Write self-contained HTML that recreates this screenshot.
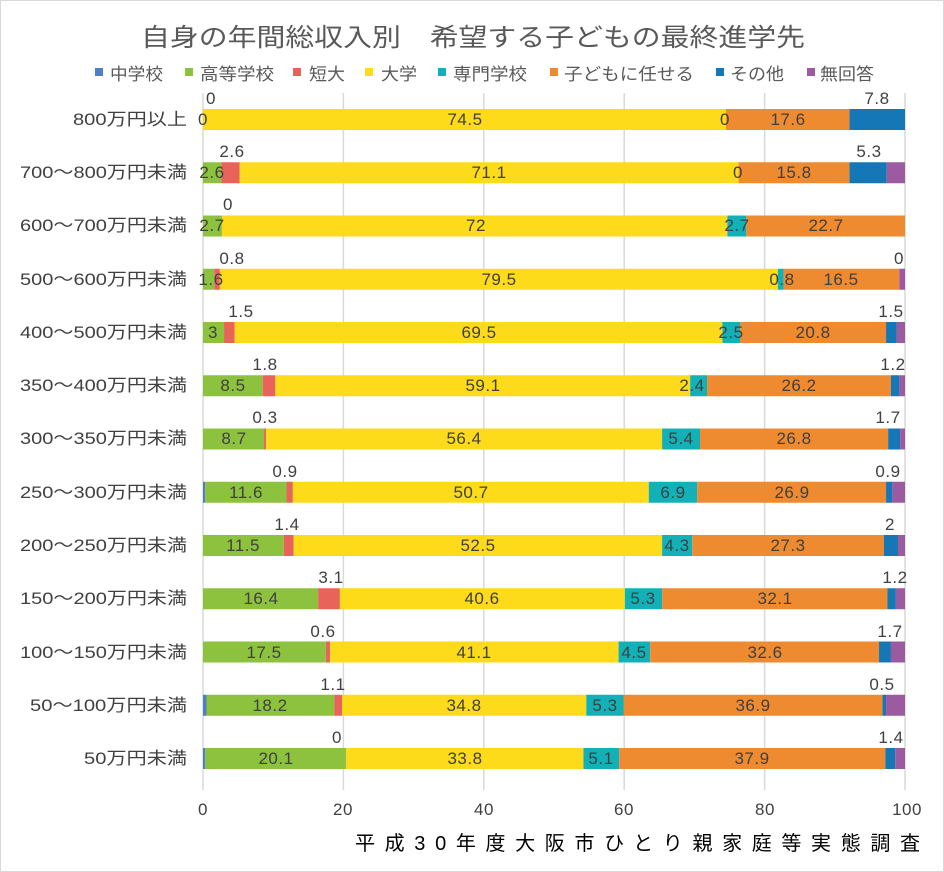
<!DOCTYPE html>
<html><head><meta charset="utf-8"><style>
body{margin:0;background:#fff}
svg{display:block;font-family:"Liberation Sans","Noto Sans CJK JP",sans-serif}
.t{font-size:17px;fill:#404040;text-anchor:middle;letter-spacing:0.5px}
.c{font-size:17px;fill:#404040;text-anchor:end}
</style></head><body>
<svg width="944" height="872" viewBox="0 0 944 872">
<rect x="0.5" y="0.5" width="943" height="871" fill="#fff" stroke="#d9d9d9"/>
<text x="141" y="46" font-size="25" fill="#595959" textLength="664" lengthAdjust="spacingAndGlyphs">自身の年間総収入別　希望する子どもの最終進学先</text>
<g font-size="17" fill="#595959">
<rect x="95" y="68" width="8" height="8" fill="#4F7EC4"/><text x="110" y="80" textLength="53" lengthAdjust="spacingAndGlyphs">中学校</text>
<rect x="185" y="68" width="8" height="8" fill="#8DC23F"/><text x="200" y="80" textLength="74" lengthAdjust="spacingAndGlyphs">高等学校</text>
<rect x="293" y="68" width="8" height="8" fill="#E8635A"/><text x="309" y="80" textLength="36" lengthAdjust="spacingAndGlyphs">短大</text>
<rect x="365" y="68" width="8" height="8" fill="#FDDA1A"/><text x="381" y="80" textLength="36" lengthAdjust="spacingAndGlyphs">大学</text>
<rect x="438" y="68" width="8" height="8" fill="#12B1B8"/><text x="453" y="80" textLength="74" lengthAdjust="spacingAndGlyphs">専門学校</text>
<rect x="550" y="68" width="8" height="8" fill="#EE8A30"/><text x="564" y="80" textLength="130" lengthAdjust="spacingAndGlyphs">子どもに任せる</text>
<rect x="716" y="68" width="8" height="8" fill="#1577B5"/><text x="730" y="80" textLength="54" lengthAdjust="spacingAndGlyphs">その他</text>
<rect x="807" y="68" width="8" height="8" fill="#9C5AA0"/><text x="820" y="80" textLength="54" lengthAdjust="spacingAndGlyphs">無回答</text>
</g>
<g stroke="#d9d9d9" stroke-width="1.5">
<line x1="203" y1="93" x2="203" y2="790"/><line x1="343.4" y1="93" x2="343.4" y2="790"/><line x1="483.8" y1="93" x2="483.8" y2="790"/><line x1="624.2" y1="93" x2="624.2" y2="790"/><line x1="764.6" y1="93" x2="764.6" y2="790"/><line x1="905" y1="93" x2="905" y2="790"/>
</g>
<g transform="translate(203,0) scale(7.02,1)">
<g transform="translate(0,109)"><rect x="0" width="74.5" height="21" fill="#FDDA1A"/><rect x="74.5" width="17.6" height="21" fill="#EE8A30"/><rect x="92.1" width="7.9" height="21" fill="#1577B5"/></g>
<g transform="translate(0,162.25)"><rect x="0" width="2.6" height="21" fill="#8DC23F"/><rect x="2.6" width="2.6" height="21" fill="#E8635A"/><rect x="5.2" width="71.1" height="21" fill="#FDDA1A"/><rect x="76.3" width="15.8" height="21" fill="#EE8A30"/><rect x="92.1" width="5.3" height="21" fill="#1577B5"/><rect x="97.4" width="2.6" height="21" fill="#9C5AA0"/></g>
<g transform="translate(0,215.5)"><rect x="0" width="2.7" height="21" fill="#8DC23F"/><rect x="2.7" width="72" height="21" fill="#FDDA1A"/><rect x="74.7" width="2.7" height="21" fill="#12B1B8"/><rect x="77.4" width="22.6" height="21" fill="#EE8A30"/></g>
<g transform="translate(0,268.75)"><rect x="0" width="1.6" height="21" fill="#8DC23F"/><rect x="1.6" width="0.8" height="21" fill="#E8635A"/><rect x="2.4" width="79.5" height="21" fill="#FDDA1A"/><rect x="81.9" width="0.8" height="21" fill="#12B1B8"/><rect x="82.7" width="16.5" height="21" fill="#EE8A30"/><rect x="99.2" width="0.8" height="21" fill="#9C5AA0"/></g>
<g transform="translate(0,322)"><rect x="0" width="3" height="21" fill="#8DC23F"/><rect x="3" width="1.5" height="21" fill="#E8635A"/><rect x="4.5" width="69.5" height="21" fill="#FDDA1A"/><rect x="74" width="2.5" height="21" fill="#12B1B8"/><rect x="76.5" width="20.8" height="21" fill="#EE8A30"/><rect x="97.3" width="1.5" height="21" fill="#1577B5"/><rect x="98.8" width="1.2" height="21" fill="#9C5AA0"/></g>
<g transform="translate(0,375.25)"><rect x="0" width="8.5" height="21" fill="#8DC23F"/><rect x="8.5" width="1.8" height="21" fill="#E8635A"/><rect x="10.3" width="59.1" height="21" fill="#FDDA1A"/><rect x="69.4" width="2.4" height="21" fill="#12B1B8"/><rect x="71.8" width="26.2" height="21" fill="#EE8A30"/><rect x="98" width="1.2" height="21" fill="#1577B5"/><rect x="99.2" width="0.8" height="21" fill="#9C5AA0"/></g>
<g transform="translate(0,428.5)"><rect x="0" width="8.7" height="21" fill="#8DC23F"/><rect x="8.7" width="0.3" height="21" fill="#E8635A"/><rect x="9" width="56.4" height="21" fill="#FDDA1A"/><rect x="65.4" width="5.4" height="21" fill="#12B1B8"/><rect x="70.8" width="26.8" height="21" fill="#EE8A30"/><rect x="97.6" width="1.7" height="21" fill="#1577B5"/><rect x="99.3" width="0.7" height="21" fill="#9C5AA0"/></g>
<g transform="translate(0,481.75)"><rect x="0" width="0.3" height="21" fill="#4F7EC4"/><rect x="0.3" width="11.6" height="21" fill="#8DC23F"/><rect x="11.9" width="0.9" height="21" fill="#E8635A"/><rect x="12.8" width="50.7" height="21" fill="#FDDA1A"/><rect x="63.5" width="6.9" height="21" fill="#12B1B8"/><rect x="70.4" width="26.9" height="21" fill="#EE8A30"/><rect x="97.3" width="0.9" height="21" fill="#1577B5"/><rect x="98.2" width="1.8" height="21" fill="#9C5AA0"/></g>
<g transform="translate(0,535)"><rect x="0" width="11.5" height="21" fill="#8DC23F"/><rect x="11.5" width="1.4" height="21" fill="#E8635A"/><rect x="12.9" width="52.5" height="21" fill="#FDDA1A"/><rect x="65.4" width="4.3" height="21" fill="#12B1B8"/><rect x="69.7" width="27.3" height="21" fill="#EE8A30"/><rect x="97" width="2" height="21" fill="#1577B5"/><rect x="99" width="1" height="21" fill="#9C5AA0"/></g>
<g transform="translate(0,588.25)"><rect x="0" width="16.4" height="21" fill="#8DC23F"/><rect x="16.4" width="3.1" height="21" fill="#E8635A"/><rect x="19.5" width="40.6" height="21" fill="#FDDA1A"/><rect x="60.1" width="5.3" height="21" fill="#12B1B8"/><rect x="65.4" width="32.1" height="21" fill="#EE8A30"/><rect x="97.5" width="1.2" height="21" fill="#1577B5"/><rect x="98.7" width="1.3" height="21" fill="#9C5AA0"/></g>
<g transform="translate(0,641.5)"><rect x="0" width="17.5" height="21" fill="#8DC23F"/><rect x="17.5" width="0.6" height="21" fill="#E8635A"/><rect x="18.1" width="41.1" height="21" fill="#FDDA1A"/><rect x="59.2" width="4.5" height="21" fill="#12B1B8"/><rect x="63.7" width="32.6" height="21" fill="#EE8A30"/><rect x="96.3" width="1.7" height="21" fill="#1577B5"/><rect x="98" width="2" height="21" fill="#9C5AA0"/></g>
<g transform="translate(0,694.75)"><rect x="0" width="0.5" height="21" fill="#4F7EC4"/><rect x="0.5" width="18.2" height="21" fill="#8DC23F"/><rect x="18.7" width="1.1" height="21" fill="#E8635A"/><rect x="19.8" width="34.8" height="21" fill="#FDDA1A"/><rect x="54.6" width="5.3" height="21" fill="#12B1B8"/><rect x="59.9" width="36.9" height="21" fill="#EE8A30"/><rect x="96.8" width="0.5" height="21" fill="#1577B5"/><rect x="97.3" width="2.7" height="21" fill="#9C5AA0"/></g>
<g transform="translate(0,748)"><rect x="0" width="0.3" height="21" fill="#4F7EC4"/><rect x="0.3" width="20.1" height="21" fill="#8DC23F"/><rect x="20.4" width="33.8" height="21" fill="#FDDA1A"/><rect x="54.2" width="5.1" height="21" fill="#12B1B8"/><rect x="59.3" width="37.9" height="21" fill="#EE8A30"/><rect x="97.2" width="1.4" height="21" fill="#1577B5"/><rect x="98.6" width="1.4" height="21" fill="#9C5AA0"/></g>
</g>
<g class="c" style="text-anchor:start">
<text x="73" y="125" textLength="114" lengthAdjust="spacingAndGlyphs">800万円以上</text>
<text x="20" y="178" textLength="167" lengthAdjust="spacingAndGlyphs">700～800万円未満</text>
<text x="20" y="231" textLength="167" lengthAdjust="spacingAndGlyphs">600～700万円未満</text>
<text x="20" y="285" textLength="167" lengthAdjust="spacingAndGlyphs">500～600万円未満</text>
<text x="20" y="338" textLength="167" lengthAdjust="spacingAndGlyphs">400～500万円未満</text>
<text x="20" y="391" textLength="167" lengthAdjust="spacingAndGlyphs">350～400万円未満</text>
<text x="20" y="444" textLength="167" lengthAdjust="spacingAndGlyphs">300～350万円未満</text>
<text x="20" y="498" textLength="167" lengthAdjust="spacingAndGlyphs">250～300万円未満</text>
<text x="20" y="551" textLength="167" lengthAdjust="spacingAndGlyphs">200～250万円未満</text>
<text x="20" y="604" textLength="167" lengthAdjust="spacingAndGlyphs">150～200万円未満</text>
<text x="20" y="658" textLength="167" lengthAdjust="spacingAndGlyphs">100～150万円未満</text>
<text x="30" y="711" textLength="157" lengthAdjust="spacingAndGlyphs">50～100万円未満</text>
<text x="84" y="764" textLength="103" lengthAdjust="spacingAndGlyphs">50万円未満</text>
</g>
<g class="t">
<text x="203" y="125">0</text><text x="211" y="104">0</text><text x="465" y="125">74.5</text><text x="725" y="125">0</text><text x="788" y="125">17.6</text><text x="877" y="104">7.8</text>
<text x="212" y="178">2.6</text><text x="232" y="157">2.6</text><text x="489" y="178">71.1</text><text x="738" y="178">0</text><text x="794" y="178">15.8</text><text x="869" y="157">5.3</text>
<text x="212" y="231">2.7</text><text x="228" y="210">0</text><text x="476" y="231">72</text><text x="737" y="231">2.7</text><text x="826" y="231">22.7</text>
<text x="211" y="285">1.6</text><text x="232" y="264">0.8</text><text x="499" y="285">79.5</text><text x="782" y="285">0.8</text><text x="841" y="285">16.5</text><text x="899" y="264">0</text>
<text x="213" y="338">3</text><text x="241" y="317">1.5</text><text x="479" y="338">69.5</text><text x="731" y="338">2.5</text><text x="813" y="338">20.8</text><text x="891" y="317">1.5</text>
<text x="233" y="391">8.5</text><text x="265" y="370">1.8</text><text x="483" y="391">59.1</text><text x="692" y="391">2.4</text><text x="799" y="391">26.2</text><text x="893" y="370">1.2</text>
<text x="234" y="444">8.7</text><text x="265" y="423">0.3</text><text x="464" y="444">56.4</text><text x="681" y="444">5.4</text><text x="794" y="444">26.8</text><text x="888" y="423">1.7</text>
<text x="246" y="498">11.6</text><text x="285" y="477">0.9</text><text x="471" y="498">50.7</text><text x="673" y="498">6.9</text><text x="792" y="498">26.9</text><text x="888" y="477">0.9</text>
<text x="243" y="551">11.5</text><text x="287" y="530">1.4</text><text x="478" y="551">52.5</text><text x="677" y="551">4.3</text><text x="788" y="551">27.3</text><text x="890" y="530">2</text>
<text x="261" y="604">16.4</text><text x="331" y="583">3.1</text><text x="482" y="604">40.6</text><text x="643" y="604">5.3</text><text x="775" y="604">32.1</text><text x="895" y="583">1.2</text>
<text x="264" y="658">17.5</text><text x="323" y="637">0.6</text><text x="474" y="658">41.1</text><text x="634" y="658">4.5</text><text x="765" y="658">32.6</text><text x="890" y="637">1.7</text>
<text x="270" y="711">18.2</text><text x="333" y="690">1.1</text><text x="464" y="711">34.8</text><text x="605" y="711">5.3</text><text x="753" y="711">36.9</text><text x="882" y="690">0.5</text>
<text x="276" y="764">20.1</text><text x="337" y="743">0</text><text x="465" y="764">33.8</text><text x="601" y="764">5.1</text><text x="752" y="764">37.9</text><text x="891" y="743">1.4</text>
</g>
<g class="t" fill="#595959">
<text x="203" y="815">0</text><text x="343" y="815">20</text><text x="484" y="815">40</text><text x="624" y="815">60</text><text x="765" y="815">80</text><text x="907" y="815">100</text>
</g>
<text x="355" y="850" font-size="20" fill="#000" textLength="565" lengthAdjust="spacing">平成30年度大阪市ひとり親家庭等実態調査</text>
</svg>
</body></html>
